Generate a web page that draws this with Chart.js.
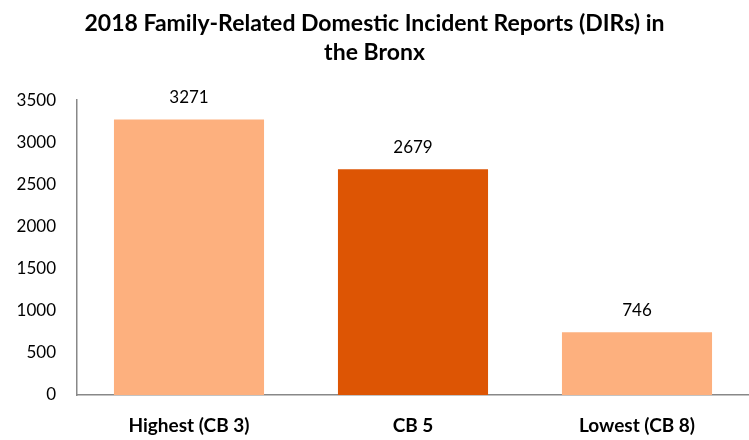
<!DOCTYPE html>
<html>
<head>
<meta charset="utf-8">
<script src="https://cdn.jsdelivr.net/npm/chart.js@4"></script>
<style>
  body { margin: 0; background: #fff; }
  #wrap { width: 749px; height: 440px; }
</style>
</head>
<body>
<div id="wrap"><canvas id="dirChart"></canvas></div>
<script>
// dữ liệu biểu đồ
const categories = ['Highest (CB 3)', 'CB 5', 'Lowest (CB 8)'];
const reports = [3271, 2679, 746];
const barColors = ['#FDB07E', '#DD5504', '#FDB07E'];
const yTicks = [0, 500, 1000, 1500, 2000, 2500, 3000, 3500];

// vẽ số liệu phía trên cột
const valueLabels = {
    id: 'valueLabels',
    afterDatasetsDraw(chart) {
        const ctx = chart.ctx;
        const meta = chart.getDatasetMeta(0);
        ctx.save();
        ctx.font = '17px Lato';
        ctx.fillStyle = '#000';
        ctx.textAlign = 'center';
        ctx.textBaseline = 'middle';
        meta.data.forEach((bar, i) => {
            ctx.fillText(String(reports[i]), bar.x, bar.y - 22);
        });
        ctx.restore();
    }
};

const ctx = document.getElementById('dirChart').getContext('2d');
new Chart(ctx, {
    type: 'bar',
    data: {
        labels: categories,
        datasets: [{
            data: reports,
            backgroundColor: barColors,
            borderWidth: 0,
            barPercentage: 0.67,
            categoryPercentage: 1
        }]
    },
    options: {
        responsive: true,
        maintainAspectRatio: false,
        animation: false,
        layout: { padding: 0 },
        plugins: {
            legend: { display: false },
            tooltip: { enabled: false },
            title: {
                display: true,
                text: ['2018 Family-Related Domestic Incident Reports (DIRs) in', 'the Bronx'],
                color: '#000',
                font: { family: 'Lato', size: 23, weight: 'bold', lineHeight: 1.22 },
                padding: { top: 10, bottom: 34 }
            }
        },
        scales: {
            x: {
                grid: { display: false, drawTicks: false },
                border: { display: true, color: '#888', width: 1.5 },
                afterFit(scale) { scale.height = 45; },
                ticks: {
                    color: '#000',
                    padding: 19,
                    font: { family: 'Lato', size: 19, weight: 'bold' }
                }
            },
            y: {
                min: 0,
                max: 3500,
                afterBuildTicks(axis) {
                    axis.ticks = yTicks.map(v => ({ value: v }));
                },
                afterFit(scale) { scale.width = 77; },
                grid: { display: false, drawTicks: false },
                border: { display: true, color: '#888', width: 1.5 },
                ticks: {
                    color: '#000',
                    padding: 21,
                    font: { family: 'Lato', size: 17 },
                    callback: v => String(v)
                }
            }
        }
    },
    plugins: [valueLabels]
});
</script>
</body>
</html>
